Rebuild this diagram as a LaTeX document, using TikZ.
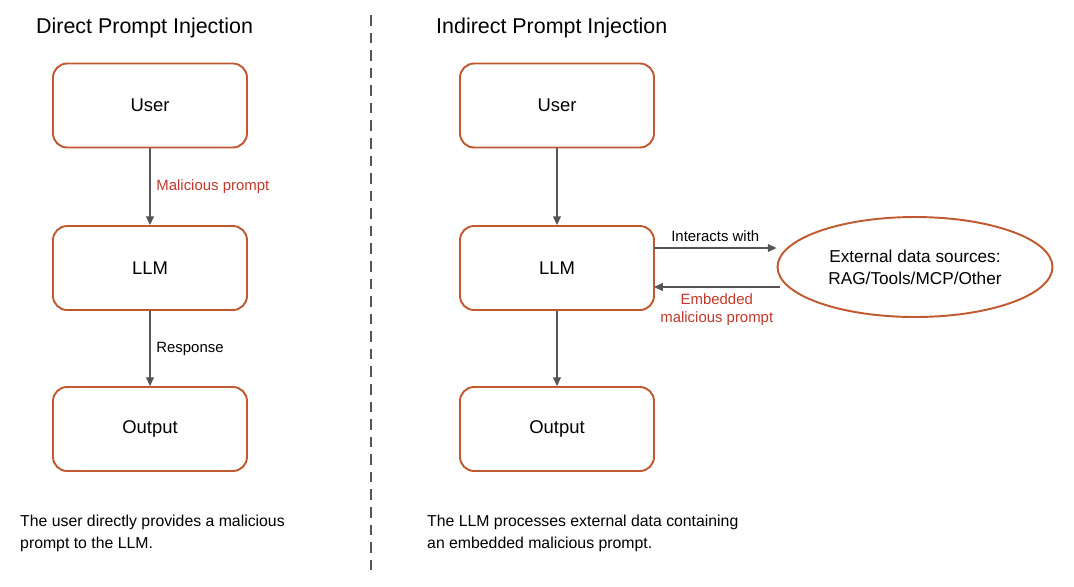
\documentclass[tikz,border=0pt]{standalone}
\usepackage{fontspec}
\setmainfont{Liberation Sans}
\usetikzlibrary{positioning,arrows.meta,shapes.geometric}
\definecolor{boxline}{HTML}{C0592F}
\definecolor{warnred}{HTML}{C0392B}
\definecolor{arrowgray}{HTML}{555555}
\tikzset{
  stage/.style={draw=boxline, line width=1.1pt, rounded corners=8pt, minimum width=3.88cm, minimum height=1.68cm, font=\fontsize{10.5}{12}\selectfont},
  flow/.style={draw=arrowgray, line width=0.6pt, -{Triangle[length=5pt,width=4.5pt]}},
  lbl/.style={font=\fontsize{8.5}{10.5}\selectfont},
  title/.style={font=\fontsize{12.2}{14}\selectfont, anchor=west},
  note/.style={font=\fontsize{9}{12.5}\selectfont, anchor=north west, align=left}
}
\begin{document}
\begin{tikzpicture}[x=0.02cm,y=-0.02cm]
  \useasboundingbox (0,0) rectangle (1074,586);
  \draw[arrowgray, line width=1pt, dash pattern=on 6pt off 4pt] (371,15) -- (371,570);
  % direct
  \node[title] (tdir) at (30,28) {Direct Prompt Injection};
  \node[stage] (duser) at (150,105.5) {User};
  \node[stage] (dllm) at (150,268) {LLM};
  \node[stage] (dout) at (150,429) {Output};
  \draw[flow] (duser) -- node[lbl, right, text=warnred] {Malicious prompt} (dllm);
  \draw[flow] (dllm) -- node[lbl, right] {Response} (dout);
  \node[note] (ndir) at (14,509) {The user directly provides a malicious\\prompt to the LLM.};
  % indirect
  \node[title] (tind) at (430,28) {Indirect Prompt Injection};
  \node[stage] (iuser) at (557,105.5) {User};
  \node[stage] (illm) at (557,268) {LLM};
  \node[stage] (iout) at (557,429) {Output};
  \node[ellipse, draw=boxline, line width=1.1pt, minimum width=5.5cm, minimum height=2cm, align=center, font=\fontsize{9.8}{12.5}\selectfont] (ext) at (915,267) {External data sources:\\RAG/Tools/MCP/Other};
  \draw[flow] (iuser) -- (illm);
  \draw[flow] (illm) -- (iout);
  \coordinate (go) at (654,248);
  \coordinate (back) at (654,287);
  \draw[flow] (go) -- node[lbl, above] {Interacts with} (go -| ext.west);
  \draw[flow] (back -| ext.west) ++(3,0) -- node[lbl, below, text=warnred, align=center] {Embedded\\malicious prompt} (back);
  \node[note] (nind) at (421,509) {The LLM processes external data containing\\an embedded malicious prompt.};
\end{tikzpicture}
\end{document}
